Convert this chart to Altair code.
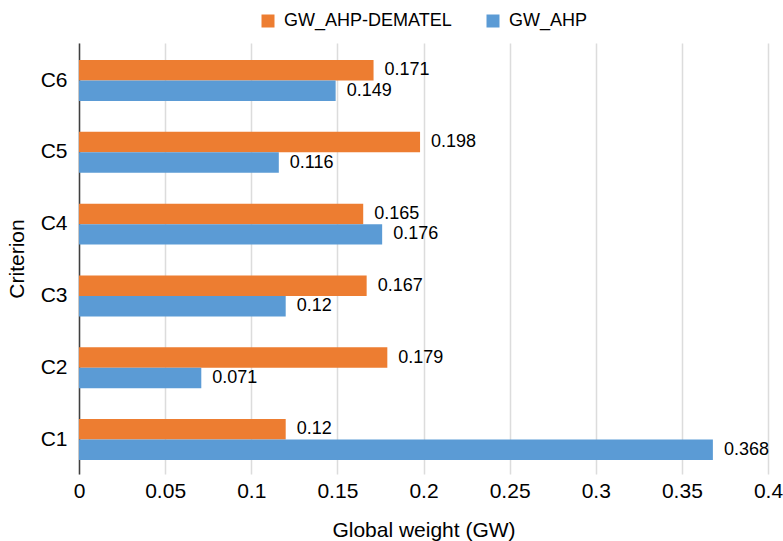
import altair as alt
import pandas as pd

# Global weights of the six criteria under the two weighting methods
criteria = ["C1", "C2", "C3", "C4", "C5", "C6"]
gw_ahp_dematel = [0.12, 0.179, 0.167, 0.165, 0.198, 0.171]
gw_ahp = [0.368, 0.071, 0.12, 0.176, 0.116, 0.149]

series_names = ["GW_AHP-DEMATEL", "GW_AHP"]
series_colors = ["#ED7D31", "#5B9BD5"]
x_ticks = [0, 0.05, 0.1, 0.15, 0.2, 0.25, 0.3, 0.35, 0.4]

rows = []
for crit, a, b in zip(criteria, gw_ahp_dematel, gw_ahp):
    rows.append({"criterion": crit, "series": series_names[0], "gw": a, "label": str(a)})
    rows.append({"criterion": crit, "series": series_names[1], "gw": b, "label": str(b)})
df = pd.DataFrame(rows)

FONT = "Liberation Sans"

y_scale = alt.Scale(paddingInner=0.43, paddingOuter=0.216, align=0.55)

y_enc = alt.Y(
    "criterion:N",
    sort=criteria[::-1],
    scale=y_scale,
    axis=alt.Axis(
        title="Criterion",
        domain=True,
        domainColor="#404040",
        domainWidth=1.5,
        ticks=False,
        grid=False,
        labelFontSize=21,
        labelColor="black",
        labelPadding=12,
        titleFontSize=21,
        titleFontWeight="normal",
        titleColor="black",
        titlePadding=13,
    ),
)
yoff_enc = alt.YOffset("series:N", sort=series_names, scale=alt.Scale(domain=series_names))
x_enc = alt.X(
    "gw:Q",
    scale=alt.Scale(domain=[0, 0.4], nice=False),
    axis=alt.Axis(
        title="Global weight (GW)",
        values=x_ticks,
        format="~g",
        domain=False,
        ticks=False,
        grid=True,
        gridColor="#dcdcdc",
        gridWidth=1.5,
        labelFontSize=21,
        labelColor="black",
        labelPadding=6,
        labelFlush=False,
        titleFontSize=21,
        titleFontWeight="normal",
        titleColor="black",
        titlePadding=18,
    ),
)

bars = alt.Chart(df).mark_bar().encode(
    y=y_enc,
    yOffset=yoff_enc,
    x=x_enc,
    color=alt.Color(
        "series:N",
        scale=alt.Scale(domain=series_names, range=series_colors),
        legend=alt.Legend(
            title=None,
            orient="none",
            legendX=180,
            legendY=-31,
            direction="horizontal",
            symbolType="square",
            symbolSize=169,
            symbolStrokeWidth=0,
            labelFontSize=18,
            labelColor="black",
            labelOffset=7,
            labelLimit=0,
            columnPadding=32,
            padding=0,
        ),
    ),
)

labels = alt.Chart(df).mark_text(
    align="left", baseline="middle", dx=11, fontSize=18, color="black"
).encode(
    y=alt.Y("criterion:N", sort=criteria[::-1], scale=y_scale),
    yOffset=yoff_enc,
    x=alt.X("gw:Q"),
    text="label:N",
)

chart = (
    alt.layer(bars, labels)
    .properties(width=689, height=431)
    .configure(
        font=FONT,
        autosize=alt.AutoSizeParams(type="none"),
        padding={"left": 79, "top": 43, "right": 15, "bottom": 67},
    )
    .configure_view(stroke=None)
)

chart.save("out.html", embed_options={"renderer": "svg", "actions": False})
